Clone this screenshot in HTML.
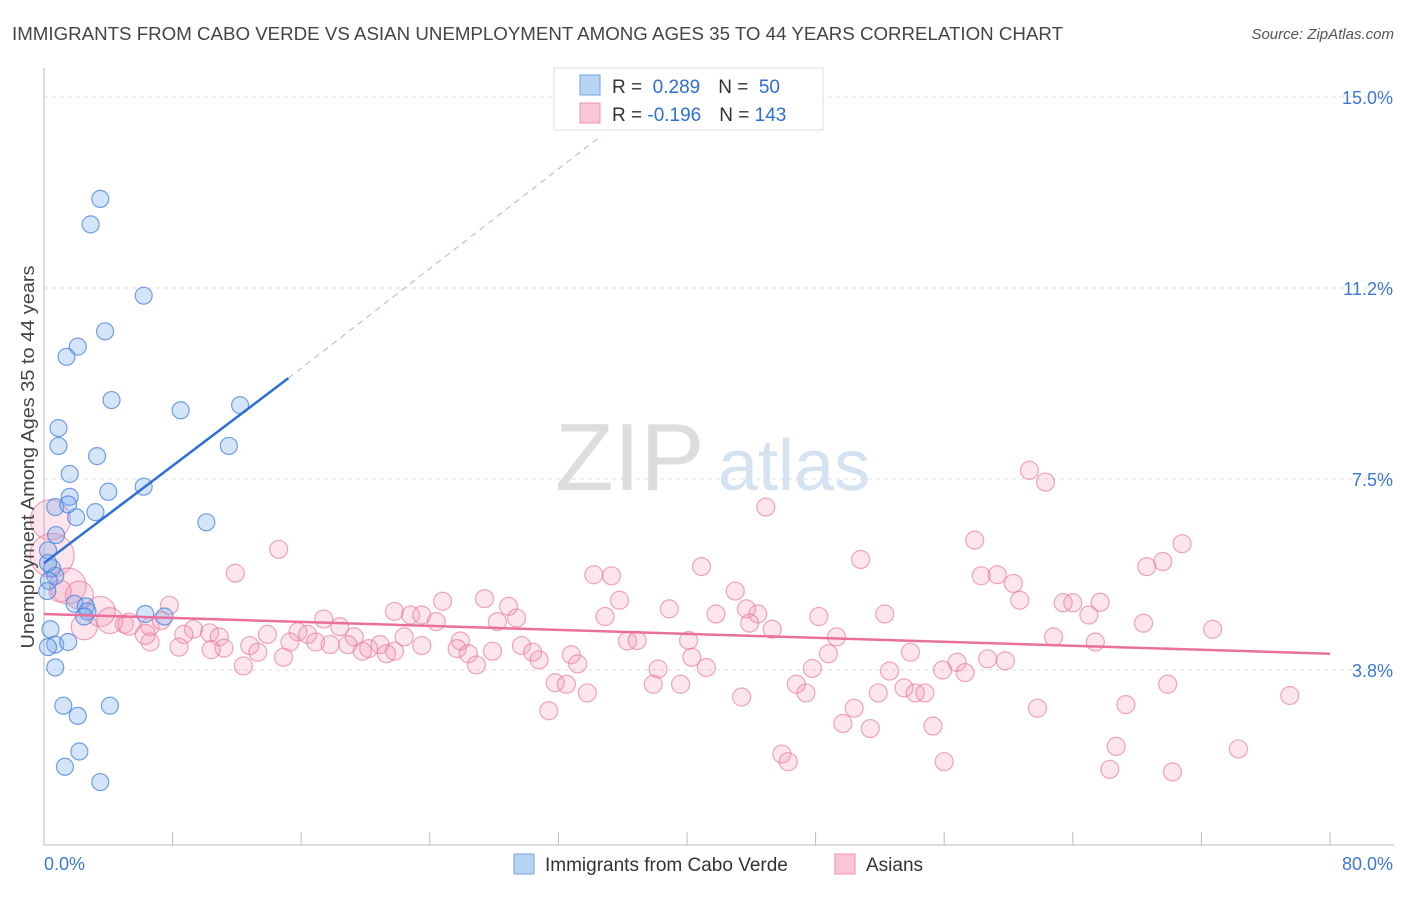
<!DOCTYPE html>
<html><head><meta charset="utf-8"><style>
body{margin:0;background:#fff;font-family:"Liberation Sans",sans-serif}
svg text{font-family:"Liberation Sans",sans-serif}
</style></head><body>
<svg id="chart" width="1406" height="892" xmlns="http://www.w3.org/2000/svg">
<text x="12" y="40" font-size="18" fill="#444" textLength="1051" lengthAdjust="spacingAndGlyphs">IMMIGRANTS FROM CABO VERDE VS ASIAN UNEMPLOYMENT AMONG AGES 35 TO 44 YEARS CORRELATION CHART</text>
<text x="1394" y="39" font-size="15" fill="#555" text-anchor="end" font-style="italic">Source: ZipAtlas.com</text>
<text x="555" y="490" font-size="96" fill="#ddd" font-family="Liberation Serif">ZIP</text>
<text x="718" y="490" font-size="72" fill="#d4e2f2">atlas</text>
<g id="grid"></g>
<g id="axes"></g>
<g id="pink"></g>
<g id="blue"></g>
<g id="trend"></g>
<text transform="translate(34,457) rotate(-90)" font-size="18" fill="#444" text-anchor="middle" textLength="383" lengthAdjust="spacingAndGlyphs">Unemployment Among Ages 35 to 44 years</text>
<g>
<rect x="554" y="68" width="269" height="62" fill="#fff" stroke="#ddd"/>
<rect x="580" y="75" width="20" height="20" fill="#b9d3f3" stroke="#6fa3e4"/>
<rect x="580" y="103" width="20" height="20" fill="#f9c6d5" stroke="#ee93b0"/>
<text x="612" y="93" font-size="19" fill="#333">R = <tspan fill="#2f6fd1">&#160;0.289</tspan><tspan dx="18" fill="#333">N = </tspan><tspan fill="#2f6fd1">&#160;50</tspan></text>
<text x="612" y="121" font-size="19" fill="#333">R = <tspan fill="#2f6fd1">-0.196</tspan><tspan dx="18" fill="#333">N = </tspan><tspan fill="#2f6fd1">143</tspan></text>
</g>
<g>
<rect x="514" y="854" width="20" height="20" fill="#b9d3f3" stroke="#6fa3e4"/>
<text x="545" y="871" font-size="19" fill="#333">Immigrants from Cabo Verde</text>
<rect x="835" y="854" width="20" height="20" fill="#f9c6d5" stroke="#ee93b0"/>
<text x="866" y="871" font-size="19" fill="#333">Asians</text>
</g>
</svg>
<script>
const yTicks=[3.75,7.5,11.25,15];
const yTickLabels=["3.8%","7.5%","11.2%","15.0%"];
const xTicks=[0,8,16,24,32,40,48,56,64,72,80];
const xEndLabels=["0.0%","80.0%"];
const blueX=[3.5,2.9,6.2,3.8,2.1,1.4,4.2,8.5,12.2,0.9,0.9,11.5,3.3,1.6,6.2,4.0,1.6,0.7,1.5,3.2,2.0,10.1,0.75,0.25,0.5,0.7,0.3,1.9,2.6,2.7,2.5,6.3,7.5,0.4,0.7,1.5,0.25,0.7,1.2,2.1,4.1,2.2,1.3,3.5,0.25,0.2];
const blueY=[13.0,12.5,11.1,10.4,10.1,9.9,9.05,8.85,8.95,8.5,8.15,8.15,7.95,7.6,7.35,7.25,7.15,6.95,7.0,6.85,6.75,6.65,6.4,6.1,5.75,5.6,5.5,5.05,5.0,4.9,4.8,4.85,4.8,4.55,4.25,4.3,4.2,3.8,3.05,2.85,3.05,2.15,1.85,1.55,5.85,5.3];
const pinkX=[44.9,61.3,62.3,14.6,11.9,57.9,70.8,50.8,40.9,69.6,68.6,34.2,35.3,58.3,59.3,60.3,43.0,27.4,24.8,35.8,60.7,63.4,64.0,65.7,7.8,28.9,38.9,41.8,43.7,44.4,48.2,52.3,65.0,21.8,22.8,23.5,24.4,29.4,34.9,17.4,18.4,28.2,43.9,45.3,68.4,72.7,6.6,7.3,5.0,9.3,10.3,10.9,13.9,15.8,16.4,8.7,49.3,62.8,65.4,19.3,22.4,25.9,36.3,36.9,40.1,16.9,17.8,18.9,20.9,23.5,29.7,6.6,12.8,8.4,11.2,15.3,20.2,30.4,21.8,19.8,21.3,10.4,13.3,14.9,25.7,26.4,27.9,32.8,40.3,48.8,53.9,30.8,33.2,26.9,12.4,41.2,38.2,47.8,52.6,55.9,56.8,57.3,58.7,59.8,31.8,32.5,37.9,39.6,46.8,47.4,53.5,54.2,54.8,51.9,33.8,43.4,69.9,77.5,50.4,61.8,67.3,31.4,49.7,51.4,55.3,45.9,46.3,56.0,66.7,66.3,70.2,74.3,0.4,0.5,1.5,2.2,3.5,4.1,5.3,6.3,1.0,2.5];
const pinkY=[6.95,7.67,7.44,6.12,5.65,6.3,6.23,5.92,5.78,5.88,5.78,5.62,5.6,5.6,5.62,5.45,5.3,5.15,5.1,5.12,5.12,5.07,5.07,5.08,5.02,5.0,4.95,4.85,4.95,4.85,4.8,4.85,4.83,4.9,4.83,4.83,4.7,4.77,4.8,4.75,4.6,4.7,4.67,4.55,4.67,4.55,4.6,4.72,4.65,4.55,4.48,4.4,4.45,4.5,4.45,4.45,4.4,4.4,4.3,4.4,4.4,4.32,4.32,4.33,4.33,4.3,4.25,4.25,4.25,4.23,4.23,4.3,4.23,4.2,4.18,4.3,4.17,4.1,4.12,4.12,4.07,4.15,4.1,4.0,4.17,4.07,4.12,4.05,4.0,4.07,4.1,3.95,3.87,3.85,3.83,3.8,3.77,3.78,3.73,3.75,3.9,3.7,3.97,3.93,3.5,3.47,3.47,3.47,3.47,3.3,3.4,3.3,3.3,3.3,3.3,3.22,3.47,3.25,3.0,3.0,3.07,2.95,2.7,2.6,2.65,2.1,1.95,1.95,2.25,1.8,1.75,2.2,6.7,6.0,5.4,5.22,4.9,4.72,4.65,4.45,5.3,4.6];
const pinkSize=[];for(let i=0;i<pinkX.length;i++)pinkSize.push(9);
const bigSizes=[20,22,18,14,15,13,11,10,11,13];
for(let i=0;i<bigSizes.length;i++)pinkSize[pinkX.length-bigSizes.length+i]=bigSizes[i];
const blueTrend=[[0,5.85],[15.2,9.48]];
const blueDash=[[15.2,9.48],[34.5,14.2]];
const pinkTrend=[[0,4.85],[80,4.07]];
const X=v=>44+v*16.075, Y=v=>861-v*50.93;
const NS='http://www.w3.org/2000/svg';
function mk(p,t,a){const e=document.createElementNS(NS,t);for(const k in a)e.setAttribute(k,a[k]);document.getElementById(p).appendChild(e);return e;}
yTicks.forEach((t,i)=>{
 const l=mk('grid','line',{x1:44,x2:1394,y1:Y(t),y2:Y(t),stroke:'#ddd','stroke-dasharray':'4,4'});
 
 
 const tx=mk('grid','text',{x:1393,y:Y(t)+7,'font-size':18,fill:'#3d78d6','text-anchor':'end'});
 tx.textContent=yTickLabels[i];
 
 
});
const ya=mk('axes','line',{x1:44,x2:44,y1:68,y2:845,stroke:'#bbb'});


const xa=mk('axes','line',{x1:44,x2:1394,y1:845,y2:845,stroke:'#bbb'});


xTicks.forEach(t=>{const l=mk('axes','line',{x1:X(t),x2:X(t),y1:832,y2:845,stroke:'#bbb'});
 
 });
[[0,'start'],[80,'end']].forEach((d,i)=>{const t=mk('axes','text',{x:i?1393:44,y:870,'font-size':18,fill:'#3d78d6','text-anchor':d[1]});t.textContent=xEndLabels[i];
 
 });
pinkX.forEach((v,i)=>{const c=mk('pink','circle',{cx:X(v),cy:Y(pinkY[i]),r:pinkSize[i],fill:'rgba(242,150,180,0.25)',stroke:'rgba(232,120,155,0.65)','stroke-width':1.2});
 
 });
blueX.forEach((v,i)=>{const c=mk('blue','circle',{cx:X(v),cy:Y(blueY[i]),r:8.5,fill:'rgba(120,170,235,0.32)',stroke:'rgba(70,130,220,0.75)','stroke-width':1.2});
 
 });
const bt=mk('trend','line',{x1:X(blueTrend[0][0]),y1:Y(blueTrend[0][1]),x2:X(blueTrend[1][0]),y2:Y(blueTrend[1][1]),stroke:'#2b6fd6','stroke-width':2.5});


const bd=mk('trend','line',{x1:X(blueDash[0][0]),y1:Y(blueDash[0][1]),x2:X(blueDash[1][0]),y2:Y(blueDash[1][1]),stroke:'#9bbbe6','stroke-width':1,'stroke-dasharray':'6,5'});


const pt=mk('trend','line',{x1:X(pinkTrend[0][0]),y1:Y(pinkTrend[0][1]),x2:X(pinkTrend[1][0]),y2:Y(pinkTrend[1][1]),stroke:'#e8709a','stroke-width':2.5});


</script>
</body></html>
